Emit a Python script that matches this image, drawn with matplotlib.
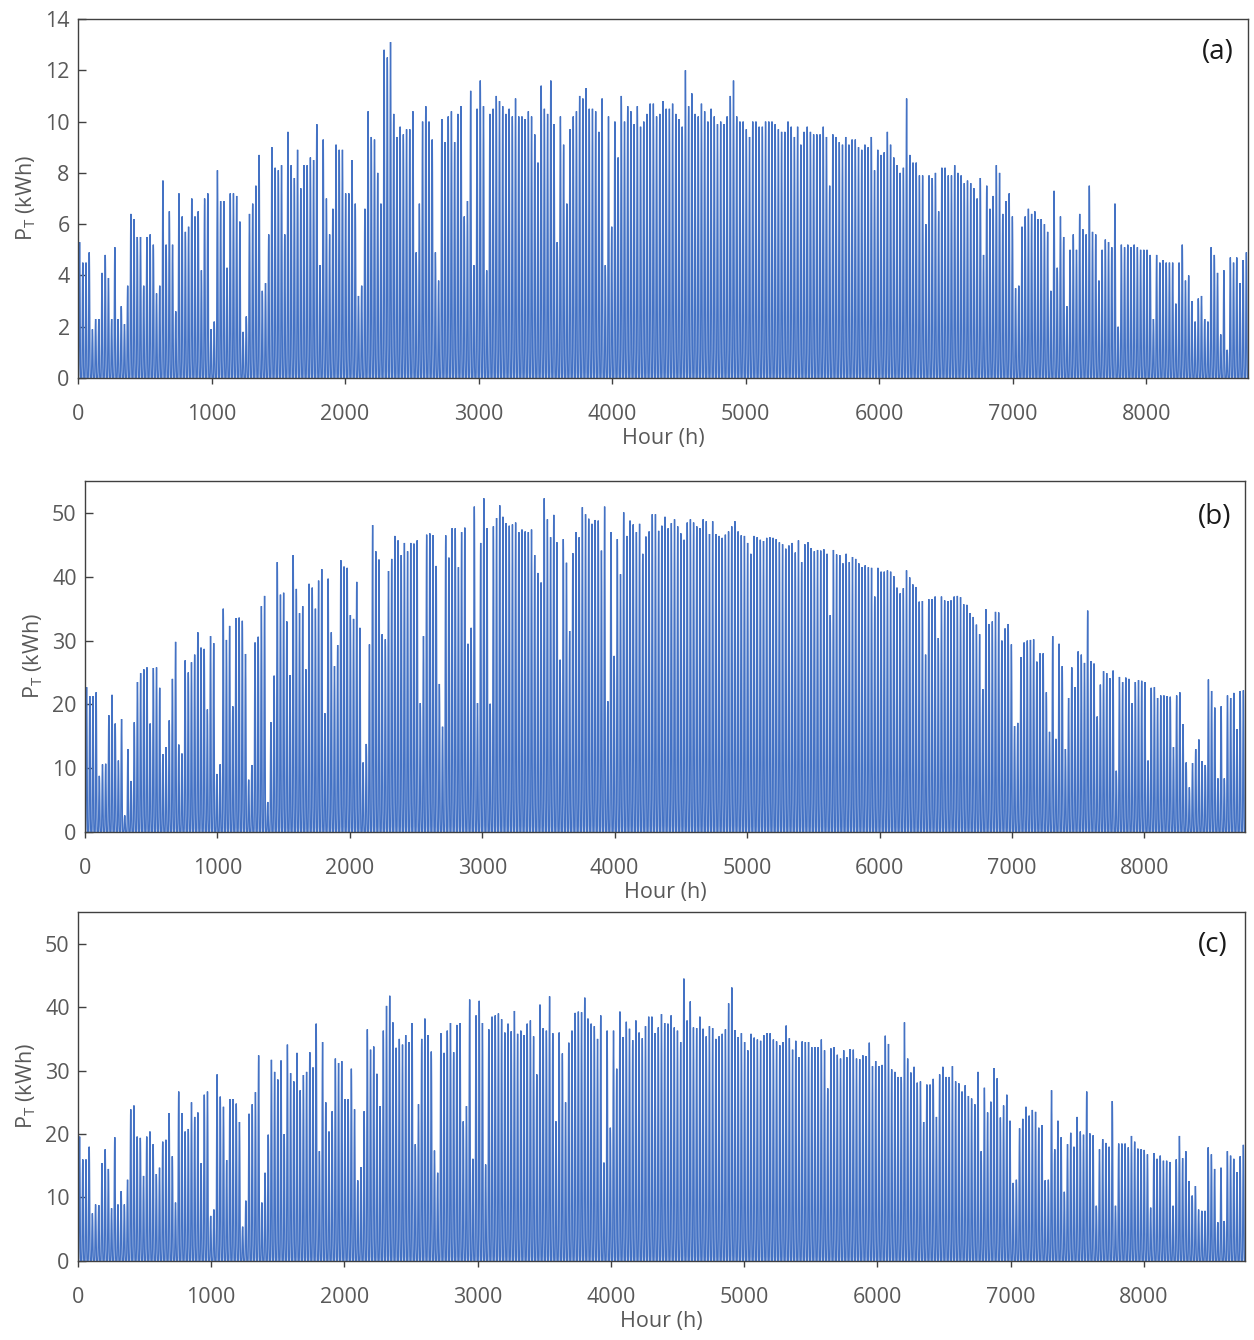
import numpy as np
import matplotlib.pyplot as plt

plt.rcParams['font.family'] = ['Open Sans', 'DejaVu Sans']
plt.rcParams['mathtext.fontset'] = 'custom'
plt.rcParams['mathtext.rm'] = 'Open Sans'
plt.rcParams['path.simplify'] = False

# daily peak output (kWh), one value per day of the year
peak_a = [
    5.3, 4.5, 4.5, 4.9, 1.9, 2.3, 2.3, 4.1, 4.8, 3.9, 2.3, 5.1, 2.3, 2.8, 2.1, 3.6, 6.4, 6.2, 5.5, 5.5,
    3.6, 5.5, 5.6, 5.2, 3.3, 3.6, 7.7, 5.2, 6.5, 5.2, 2.6, 7.2, 6.3, 5.7, 5.9, 7.0, 6.3, 6.5, 4.2, 7.0,
    7.2, 1.9, 2.2, 8.1, 6.9, 6.9, 4.3, 7.2, 7.2, 7.1, 6.1, 1.8, 2.4, 6.4, 6.8, 7.5, 8.7, 3.4, 3.7, 5.6,
    9.0, 8.2, 8.1, 8.3, 5.6, 9.6, 8.3, 7.8, 8.9, 7.4, 8.3, 8.3, 8.6, 8.5, 9.9, 4.4, 9.3, 7.0, 5.6, 6.6,
    9.1, 8.9, 8.9, 7.2, 7.2, 8.5, 6.8, 3.2, 3.6, 6.6, 10.4, 9.4, 9.3,
    8.0, 6.8, 12.8, 12.5, 13.1, 10.3, 9.4, 9.8, 9.5, 9.7, 9.7, 10.4, 4.9, 6.8, 10.0, 10.6, 10.0, 9.3, 4.9, 3.8,
    10.1, 9.2, 10.2, 10.4, 9.2, 10.3, 10.6, 6.3, 6.9, 11.2, 4.4, 10.5, 11.6, 10.6, 4.2, 10.3, 10.5, 11.0, 10.8, 10.6,
    10.3, 10.5, 10.2, 10.9, 10.2, 10.2, 10.1, 10.4, 10.2, 9.5, 8.4, 11.4, 10.5, 10.3, 11.6, 9.9, 5.3, 10.2, 9.1, 6.8,
    9.7, 10.2, 10.4, 11.0, 10.9, 11.3, 10.5, 10.5, 10.4, 9.6, 10.9, 4.4, 10.2, 5.9, 10.0, 8.6, 11.0, 10.0, 10.6, 10.4,
    9.9, 10.6, 9.8, 10.0, 10.3, 10.7, 10.7, 10.2, 10.3, 10.8, 10.5, 10.5,
    10.7, 10.3, 10.1, 9.8, 12.0, 10.6, 11.1, 10.3, 10.2, 10.7, 10.4, 10.0, 10.5, 10.2, 9.9, 10.0, 9.9, 10.2, 11.0, 11.6,
    10.2, 10.0, 10.0, 9.7, 9.4, 10.0, 10.0, 9.8, 9.8, 10.0, 10.0, 10.0, 9.9, 9.7, 9.6, 9.6, 10.0, 9.8, 9.4, 9.8,
    9.1, 9.6, 9.8, 9.6, 9.5, 9.5, 9.5, 9.8, 9.4, 7.5, 9.5, 9.4, 9.2, 9.1, 9.4, 9.1, 9.3, 9.3, 9.0, 8.9,
    9.1, 9.0, 9.4, 8.1, 8.9, 8.7, 8.8, 9.6, 9.1, 8.6, 8.3, 8.0, 8.2, 10.9, 8.7, 8.4, 8.4, 7.9, 7.9, 6.0,
    7.9, 7.8, 8.0, 6.5, 8.2, 8.2, 7.9, 7.9, 8.3, 8.0, 7.9, 7.6,
    7.7, 7.6, 7.4, 7.0, 7.8, 4.8, 7.5, 6.6, 7.1, 8.3, 8.0, 6.4, 6.9, 7.2, 6.3, 3.5, 3.6, 5.9, 6.3, 6.6,
    6.4, 6.5, 6.2, 6.2, 6.0, 5.7, 3.4, 7.3, 4.3, 6.3, 5.5, 2.8, 5.0, 5.6, 5.0, 6.4, 5.8, 5.6, 7.5, 5.7,
    5.6, 3.8, 5.0, 5.4, 5.3, 5.1, 6.8, 2.0, 5.2, 5.1, 5.2, 5.1, 5.2, 5.1, 5.0, 5.0, 5.0, 4.8, 2.3, 4.8,
    4.5, 4.6, 4.5, 4.5, 4.5, 2.9, 4.5, 5.2, 3.8, 4.0, 3.0, 2.2, 3.1, 3.2, 2.3, 2.2, 5.1, 4.8, 4.1, 1.7,
    4.2, 1.1, 4.7, 4.5, 4.7, 3.7, 4.6, 4.9,
]

peak_b = [
    22.7, 21.3, 21.3, 21.9, 8.8, 10.6, 10.7, 18.3, 21.5, 17.0, 11.2, 17.7, 2.6, 13.0, 8.0, 17.2, 23.5, 24.9, 25.5, 25.8,
    17.0, 25.7, 25.8, 22.6, 12.2, 13.3, 17.5, 24.0, 29.8, 13.7, 12.3, 26.9, 25.0, 26.6, 27.8, 31.3, 28.9, 28.7, 19.2, 30.7,
    29.6, 9.1, 10.6, 35.0, 30.1, 32.3, 19.7, 33.5, 33.6, 33.1, 27.9, 8.2, 10.5, 29.7, 30.6, 35.4, 37.0, 4.7, 17.2, 24.5,
    42.3, 37.2, 37.5, 33.0, 24.6, 43.4, 38.1, 34.3, 35.4, 25.5, 38.9, 38.3, 35.0, 39.4, 41.2, 18.6, 39.7, 31.3, 26.0, 29.3,
    42.6, 41.6, 41.4, 34.0, 33.4, 39.2, 32.0, 10.9, 13.8, 29.4, 48.1, 44.0, 42.7, 31.0,
    30.2, 40.9, 42.8, 46.4, 45.7, 43.4, 45.3, 44.0, 45.3, 45.2, 45.7, 20.2, 30.7, 46.6, 46.8, 46.5, 41.7, 23.2, 16.5, 46.5,
    43.0, 47.6, 47.6, 41.5, 47.0, 47.7, 29.5, 32.0, 51.0, 20.2, 45.3, 52.3, 47.6, 20.1, 47.9, 49.2, 51.2, 49.4, 48.4, 48.0,
    48.2, 48.5, 47.0, 47.4, 47.1, 47.0, 47.4, 43.4, 40.6, 39.1, 52.3, 49.0, 46.2, 49.7, 45.4, 27.0, 45.9, 42.2, 31.5, 43.7,
    47.0, 46.2, 50.9, 49.8, 49.1, 48.3, 48.9, 48.8, 44.1, 51.0, 20.5, 47.0, 27.6, 45.9, 40.4, 50.1, 46.4, 48.8, 48.2, 47.0,
    48.3, 43.6, 46.3, 47.1, 49.8, 49.8, 47.2, 48.0, 49.4, 47.6, 48.4, 49.0,
    47.9, 46.8, 45.8, 48.5, 49.0, 48.5, 47.9, 47.6, 49.0, 48.7, 46.7, 48.7, 46.7, 46.4, 46.1, 46.6, 47.1, 47.9, 48.7, 47.1,
    46.5, 46.4, 45.3, 43.6, 46.4, 46.2, 45.8, 45.6, 46.1, 46.2, 46.1, 45.9, 45.4, 45.1, 44.4, 44.9, 45.3, 43.8, 45.7, 42.3,
    45.1, 45.4, 44.5, 44.0, 44.2, 44.1, 44.3, 43.6, 34.0, 44.2, 43.5, 43.4, 42.1, 43.6, 42.3, 43.1, 42.8, 42.1, 41.5, 41.8,
    41.5, 41.4, 36.9, 41.4, 40.8, 40.8, 41.0, 40.8, 40.1, 38.3, 37.4, 38.2, 41.0, 39.9, 38.8, 38.4, 36.1, 36.2, 27.8, 36.5,
    36.5, 36.9, 30.4, 36.9, 36.3, 36.2, 36.3, 36.9, 37.0, 36.8, 35.7, 35.6, 34.3,
    33.7, 32.5, 31.0, 22.4, 34.9, 32.6, 33.0, 34.5, 34.4, 30.0, 31.9, 32.6, 29.4, 16.6, 17.1, 27.4, 29.7, 30.0, 30.1, 30.2,
    26.7, 28.0, 28.0, 21.9, 15.7, 30.7, 14.6, 29.5, 26.0, 13.0, 21.0, 25.8, 22.7, 28.3, 27.8, 26.5, 34.7, 26.8, 26.4, 18.1,
    23.1, 25.2, 24.9, 24.1, 25.3, 9.6, 24.3, 23.5, 24.2, 24.0, 20.2, 23.5, 23.8, 23.7, 23.5, 11.2, 22.6, 22.7, 21.0, 21.4,
    21.4, 21.3, 21.2, 13.3, 21.4, 21.9, 16.9, 10.9, 7.0, 10.8, 13.0, 14.5, 11.1, 10.5, 23.9, 22.1, 19.5, 8.4, 19.7, 8.4,
    21.4, 21.0, 21.8, 16.1, 22.1, 22.2,
]

peak_c = [
    19.6, 16.0, 16.0, 18.0, 7.5, 8.9, 8.8, 15.4, 17.6, 14.5, 8.3, 19.5, 8.9, 11.0, 8.9, 12.8, 23.9, 24.5, 19.6, 19.4,
    13.4, 19.6, 20.4, 18.4, 13.7, 14.7, 18.8, 19.1, 23.3, 16.5, 9.2, 26.7, 23.3, 20.4, 20.8, 25.0, 22.7, 23.4, 15.4, 26.2,
    26.7, 7.1, 8.1, 29.4, 25.9, 24.3, 15.9, 25.5, 25.5, 24.8, 21.9, 5.4, 9.5, 23.2, 24.7, 26.6, 32.4, 9.2, 13.9, 19.9,
    31.7, 29.8, 28.6, 31.6, 20.0, 34.1, 29.6, 28.3, 32.8, 26.9, 29.3, 29.8, 32.9, 30.5, 37.4, 17.3, 34.5, 25.0, 20.4, 23.6,
    31.9, 31.2, 31.5, 25.5, 25.5, 30.3, 23.9, 12.7, 14.8, 23.6, 36.5, 33.3, 33.8,
    29.5, 24.4, 36.3, 40.2, 41.8, 37.6, 33.6, 35.0, 34.1, 35.6, 34.5, 37.5, 18.4, 24.7, 35.0, 38.2, 35.6, 33.0, 17.4, 13.9,
    35.9, 32.8, 36.3, 37.5, 32.9, 37.2, 37.5, 22.0, 24.4, 41.2, 16.1, 38.7, 41.0, 37.5, 15.2, 36.5, 38.5, 38.7, 39.0, 38.1,
    36.0, 37.4, 36.2, 39.4, 35.8, 36.3, 35.6, 37.4, 37.9, 35.4, 29.4, 40.4, 36.7, 36.3, 41.7, 35.9, 22.0, 36.0, 32.7, 25.0,
    34.4, 36.3, 39.1, 39.3, 39.2, 41.5, 38.2, 37.4, 37.0, 35.0, 38.7, 15.5, 36.3, 21.0, 36.3, 30.3, 39.3, 35.3, 37.7, 36.6,
    34.8, 37.9, 36.0, 35.1, 37.0, 38.5, 38.5, 35.9, 36.8, 38.9, 37.5, 37.4, 38.7,
    36.8, 36.3, 34.5, 44.5, 37.9, 40.9, 36.8, 36.7, 38.5, 36.6, 35.4, 37.0, 36.7, 35.0, 35.4, 35.8, 36.5, 40.6, 43.1, 36.4,
    35.3, 35.9, 34.5, 33.2, 35.8, 35.2, 34.9, 34.7, 35.6, 35.9, 35.9, 34.9, 34.6, 34.0, 34.5, 37.1, 35.1, 33.3, 34.7, 32.1,
    34.6, 34.5, 34.5, 33.7, 33.7, 33.7, 34.9, 33.2, 27.2, 33.5, 33.7, 32.5, 31.9, 33.2, 32.1, 33.4, 33.3, 31.9, 31.8, 32.4,
    32.3, 34.4, 30.7, 31.5, 30.7, 30.9, 35.5, 34.2, 30.2, 29.8, 29.0, 29.0, 37.6, 31.9, 29.7, 30.6, 28.1, 28.3, 21.9, 27.8,
    27.8, 28.7, 22.7, 29.4, 30.6, 29.0, 29.0, 30.7, 28.3, 28.0, 26.7, 27.7, 26.0,
    25.6, 24.7, 29.8, 17.3, 27.3, 23.4, 25.1, 30.4, 28.8, 22.6, 24.5, 26.2, 22.1, 12.3, 12.8, 20.9, 22.4, 24.3, 22.9, 23.8,
    23.5, 21.0, 21.4, 12.7, 12.8, 26.9, 17.6, 22.1, 19.5, 10.9, 18.4, 20.2, 18.0, 22.7, 20.4, 19.9, 26.7, 20.1, 19.8, 8.7,
    17.6, 19.2, 18.6, 18.0, 25.2, 8.7, 18.5, 18.5, 18.5, 17.9, 19.7, 18.8, 17.7, 17.6, 17.5, 16.8, 8.4, 17.0, 16.1, 16.6,
    15.8, 15.8, 15.6, 8.7, 16.0, 19.7, 16.2, 17.3, 12.6, 10.3, 11.8, 8.1, 7.9, 7.9, 17.9, 16.8, 14.5, 6.1, 14.7, 6.3,
    17.3, 16.6, 16.1, 14.0, 16.5, 18.3,
]

# fraction of the daily peak produced in each hour 0..23
day_profile = [0, 0, 0, 0, 0, 0.02, 0.10, 0.28, 0.50, 0.70, 0.86, 0.96,
               1.0, 0.96, 0.86, 0.70, 0.50, 0.28, 0.10, 0.02, 0, 0, 0, 0]

panel_names = ['(a)', '(b)', '(c)']
y_tops = [14, 55, 55]
y_steps = [2, 10, 10]
x_ticks = [0, 1000, 2000, 3000, 4000, 5000, 6000, 7000, 8000]

# axes rectangles in figure fractions
rects = [
    [0.0622, 0.7179, 0.9330, 0.2679],
    [0.0678, 0.3791, 0.9250, 0.2619],
    [0.0622, 0.0590, 0.9306, 0.2604],
]
label_pos = [(0.988, 0.908), (0.988, 0.897), (0.985, 0.905)]

fig = plt.figure(figsize=(12.54, 13.4), dpi=100)

for peaks, name, ytop, ystep, rect, lp in zip(
        [peak_a, peak_b, peak_c], panel_names, y_tops, y_steps, rects, label_pos):
    ax = fig.add_axes(rect)
    p = np.outer(np.array(peaks), np.array(day_profile)).ravel()
    hours = np.arange(len(p))
    ax.plot(hours, p, color='#4472C4', lw=1.0, solid_joinstyle='miter')

    ax.set_xlim(0, 8760)
    ax.set_ylim(0, ytop)
    ax.set_xticks(x_ticks)
    ax.set_yticks(np.arange(0, ytop + 0.1, ystep))
    ax.tick_params(axis='y', direction='in', length=6, width=1, pad=6,
                   labelsize=15.5, labelcolor='#595959', color='#404040')
    ax.tick_params(axis='x', direction='out', length=4, width=1, pad=15,
                   labelsize=15.5, labelcolor='#595959', color='#404040')
    for s in ax.spines.values():
        s.set_color('#404040')
        s.set_linewidth(1.0)

    ax.set_xlabel('Hour (h)', fontsize=15.5, color='#595959', labelpad=2)
    ax.set_ylabel(r'P$_\mathrm{T}$ (kWh)', fontsize=15.5, color='#595959', labelpad=5)
    ax.text(lp[0], lp[1], name, transform=ax.transAxes, ha='right', va='center',
            fontsize=20, color='#1a1a1a')

fig.savefig('out.png', dpi=100)
